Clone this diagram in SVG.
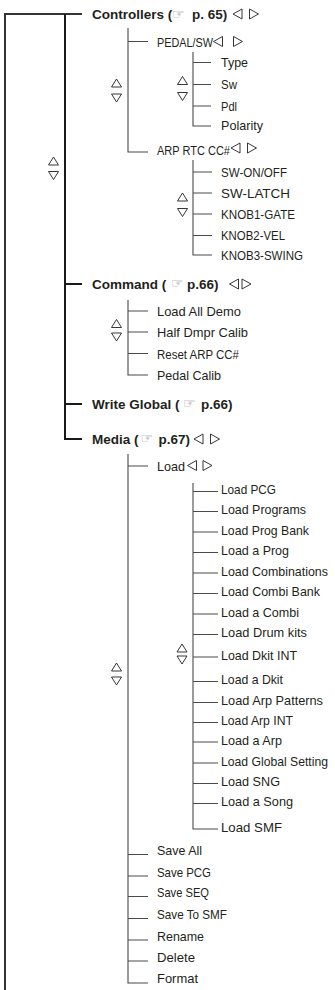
<svg xmlns="http://www.w3.org/2000/svg" xmlns:xlink="http://www.w3.org/1999/xlink" width="335" height="990" viewBox="0 0 335 990">
<style>
.t{font-family:"Liberation Sans",Arial,sans-serif;font-size:13.4px;fill:#231f20}
.w{font-size:12.4px}
.b{font-family:"Liberation Sans",Arial,sans-serif;font-size:13.5px;font-weight:bold;fill:#231f20}
.h{font-family:"DejaVu Sans","Noto Sans",sans-serif;font-size:14px;font-weight:normal;fill:#8c8c8c}
.main{fill:none;stroke:#1a1a1a;stroke-width:2}
.outer{fill:none;stroke:#333;stroke-width:2}
.sub{fill:none;stroke:#4a4a4a;stroke-width:1.1}
.tri{fill:none;stroke:#231f20;stroke-width:0.9}
</style>
<defs>
<path id="up" d="M0,-4 L5,4 L-5,4 Z"/>
<path id="dn" d="M-5,-4 L5,-4 L0,4 Z"/>
<path id="lt" d="M-4.5,0 L4.5,-5 L4.5,5 Z"/>
<path id="rt" d="M-4.5,-5 L4.5,0 L-4.5,5 Z"/>
</defs>
<g id="connectors">
<path class="outer" d="M5,990 V14 H82"/>
<path class="main" d="M65,14 V439 H82 M65,284 H82 M65,404 H82"/>
<path class="sub" d="M128,28 V152 H148 M128,41.5 H148"/>
<path class="sub" d="M193,52 V126 H211 M193,62.5 H211 M193,84.5 H211 M193,106 H211"/>
<path class="sub" d="M193,160 V255 H212 M193,172 H212 M193,193 H212 M193,214 H212 M193,235.5 H212"/>
<path class="sub" d="M128,300 V375 H148 M128,311 H148 M128,332 H148 M128,353.5 H148"/>
<path class="sub" d="M128,454 V983 H148 M128,466 H148 M128,854.5 H148 M128,876 H148 M128,896.5 H148 M128,918.5 H148 M128,940 H148 M128,961 H148"/>
<path class="sub" d="M193,483 V829 H218 M193,491.5 H218 M193,511.5 H218 M193,532 H218 M193,552.5 H218 M193,573 H218 M193,593.5 H218 M193,614 H218 M193,634.5 H218 M193,657 H218 M193,681.5 H218 M193,702.5 H218 M193,722.5 H218 M193,742 H218 M193,763 H218 M193,783.5 H218 M193,803.5 H218"/>
</g>
<g id="scroll-markers">
<use href="#up" class="tri" x="53.5" y="161"/><use href="#dn" class="tri" x="53.5" y="175.5"/>
<use href="#up" class="tri" x="116.5" y="83"/><use href="#dn" class="tri" x="116.5" y="98"/>
<use href="#up" class="tri" x="182.5" y="80.5"/><use href="#dn" class="tri" x="182.5" y="96.5"/>
<use href="#up" class="tri" x="182.5" y="197"/><use href="#dn" class="tri" x="182.5" y="212.5"/>
<use href="#up" class="tri" x="116.5" y="323.5"/><use href="#dn" class="tri" x="116.5" y="337"/>
<use href="#up" class="tri" x="116.5" y="667"/><use href="#dn" class="tri" x="116.5" y="681"/>
<use href="#up" class="tri" x="182" y="648"/><use href="#dn" class="tri" x="182" y="660"/>
</g>
<g id="controllers">
<text class="b" x="92" y="19.3">Controllers (<tspan class="h" x="172" y="19">☞</tspan><tspan x="192" y="19.3">p. 65)</tspan></text>
<use href="#lt" class="tri" x="237.5" y="14"/><use href="#rt" class="tri" x="254" y="14"/>
</g>
<g id="pedal-sw">
<text class="t" x="157" y="46.5" textLength="56" lengthAdjust="spacingAndGlyphs">PEDAL/SW</text>
<use href="#lt" class="tri" x="218" y="41.5"/><use href="#rt" class="tri" x="238" y="41.5"/>
</g>
<g id="type"><text class="t" x="221" y="67" textLength="27" lengthAdjust="spacingAndGlyphs">Type</text></g>
<g id="sw"><text class="t" x="221" y="89" textLength="16" lengthAdjust="spacingAndGlyphs">Sw</text></g>
<g id="pdl"><text class="t" x="221" y="110.5" textLength="16" lengthAdjust="spacingAndGlyphs">Pdl</text></g>
<g id="polarity"><text class="t" x="221" y="130" textLength="42" lengthAdjust="spacingAndGlyphs">Polarity</text></g>
<g id="arp-rtc">
<text class="t" x="157" y="155" textLength="73" lengthAdjust="spacingAndGlyphs">ARP RTC CC#</text>
<use href="#lt" class="tri" x="235.5" y="148"/><use href="#rt" class="tri" x="252" y="148"/>
</g>
<g id="sw-onoff"><text class="t" x="221" y="176.5" textLength="66" lengthAdjust="spacingAndGlyphs">SW-ON/OFF</text></g>
<g id="sw-latch"><text class="t" x="221" y="197.5" textLength="69" lengthAdjust="spacingAndGlyphs">SW-LATCH</text></g>
<g id="knob1"><text class="t" x="221" y="218.5" textLength="74" lengthAdjust="spacingAndGlyphs">KNOB1-GATE</text></g>
<g id="knob2"><text class="t" x="221" y="240" textLength="64" lengthAdjust="spacingAndGlyphs">KNOB2-VEL</text></g>
<g id="knob3"><text class="t" x="221" y="260" textLength="82" lengthAdjust="spacingAndGlyphs">KNOB3-SWING</text></g>
<g id="command">
<text class="b" x="92" y="288.5">Command (<tspan class="h" x="171" y="288.2">☞</tspan><tspan x="187" y="288.5">p.66)</tspan></text>
<use href="#lt" class="tri" x="234" y="284"/><use href="#rt" class="tri" x="246.5" y="284"/>
</g>
<g id="load-all-demo"><text class="t" x="157" y="316" textLength="84" lengthAdjust="spacingAndGlyphs">Load All Demo</text></g>
<g id="half-dmpr"><text class="t" x="157" y="337" textLength="91" lengthAdjust="spacingAndGlyphs">Half Dmpr Calib</text></g>
<g id="reset-arp"><text class="t" x="157" y="358.5" textLength="82" lengthAdjust="spacingAndGlyphs">Reset ARP CC#</text></g>
<g id="pedal-calib"><text class="t" x="157" y="380" textLength="64" lengthAdjust="spacingAndGlyphs">Pedal Calib</text></g>
<g id="write-global">
<text class="b" x="92" y="408.5">Write Global (<tspan class="h" x="183" y="408.2">☞</tspan><tspan x="201" y="408.5">p.66)</tspan></text>
</g>
<g id="media">
<text class="b" x="92" y="443.5">Media (<tspan class="h" x="140.5" y="443.2">☞</tspan><tspan x="158.5" y="443.5">p.67)</tspan></text>
<use href="#lt" class="tri" x="198.5" y="439"/><use href="#rt" class="tri" x="215" y="439"/>
</g>
<g id="load">
<text class="t" x="157" y="470.5" textLength="28" lengthAdjust="spacingAndGlyphs">Load</text>
<use href="#lt" class="tri" x="192" y="465.5"/><use href="#rt" class="tri" x="207.5" y="465.5"/>
</g>
<g id="load-pcg"><text class="t" x="221" y="494" textLength="55" lengthAdjust="spacingAndGlyphs">Load PCG</text></g>
<g id="load-programs"><text class="t" x="221" y="514" textLength="85" lengthAdjust="spacingAndGlyphs">Load Programs</text></g>
<g id="load-prog-bank"><text class="t" x="221" y="534.5" textLength="88" lengthAdjust="spacingAndGlyphs">Load Prog Bank</text></g>
<g id="load-a-prog"><text class="t" x="221" y="555" textLength="68" lengthAdjust="spacingAndGlyphs">Load a Prog</text></g>
<g id="load-combinations"><text class="t w" x="221" y="575.5" textLength="107" lengthAdjust="spacingAndGlyphs">Load Combinations</text></g>
<g id="load-combi-bank"><text class="t" x="221" y="596" textLength="99" lengthAdjust="spacingAndGlyphs">Load Combi Bank</text></g>
<g id="load-a-combi"><text class="t" x="221" y="616.5" textLength="78" lengthAdjust="spacingAndGlyphs">Load a Combi</text></g>
<g id="load-drum-kits"><text class="t" x="221" y="637" textLength="86" lengthAdjust="spacingAndGlyphs">Load Drum kits</text></g>
<g id="load-dkit-int"><text class="t" x="221" y="659.5" textLength="76" lengthAdjust="spacingAndGlyphs">Load Dkit INT</text></g>
<g id="load-a-dkit"><text class="t" x="221" y="684" textLength="62" lengthAdjust="spacingAndGlyphs">Load a Dkit</text></g>
<g id="load-arp-patterns"><text class="t" x="221" y="705" textLength="102" lengthAdjust="spacingAndGlyphs">Load Arp Patterns</text></g>
<g id="load-arp-int"><text class="t" x="221" y="725" textLength="72" lengthAdjust="spacingAndGlyphs">Load Arp INT</text></g>
<g id="load-a-arp"><text class="t" x="221" y="744.5" textLength="61" lengthAdjust="spacingAndGlyphs">Load a Arp</text></g>
<g id="load-global-setting"><text class="t w" x="221" y="765.5" textLength="107" lengthAdjust="spacingAndGlyphs">Load Global Setting</text></g>
<g id="load-sng"><text class="t" x="221" y="786" textLength="59" lengthAdjust="spacingAndGlyphs">Load SNG</text></g>
<g id="load-a-song"><text class="t" x="221" y="806" textLength="72" lengthAdjust="spacingAndGlyphs">Load a Song</text></g>
<g id="load-smf"><text class="t" x="221" y="831.5" textLength="61" lengthAdjust="spacingAndGlyphs">Load SMF</text></g>
<g id="save-all"><text class="t" x="157" y="855" textLength="45" lengthAdjust="spacingAndGlyphs">Save All</text></g>
<g id="save-pcg"><text class="t" x="157" y="876.5" textLength="54" lengthAdjust="spacingAndGlyphs">Save PCG</text></g>
<g id="save-seq"><text class="t" x="157" y="897" textLength="52" lengthAdjust="spacingAndGlyphs">Save SEQ</text></g>
<g id="save-to-smf"><text class="t" x="157" y="919" textLength="70" lengthAdjust="spacingAndGlyphs">Save To SMF</text></g>
<g id="rename"><text class="t" x="157" y="940.5" textLength="47" lengthAdjust="spacingAndGlyphs">Rename</text></g>
<g id="delete"><text class="t" x="157" y="961.5" textLength="38" lengthAdjust="spacingAndGlyphs">Delete</text></g>
<g id="format"><text class="t" x="157" y="983" textLength="41" lengthAdjust="spacingAndGlyphs">Format</text></g>
</svg>
